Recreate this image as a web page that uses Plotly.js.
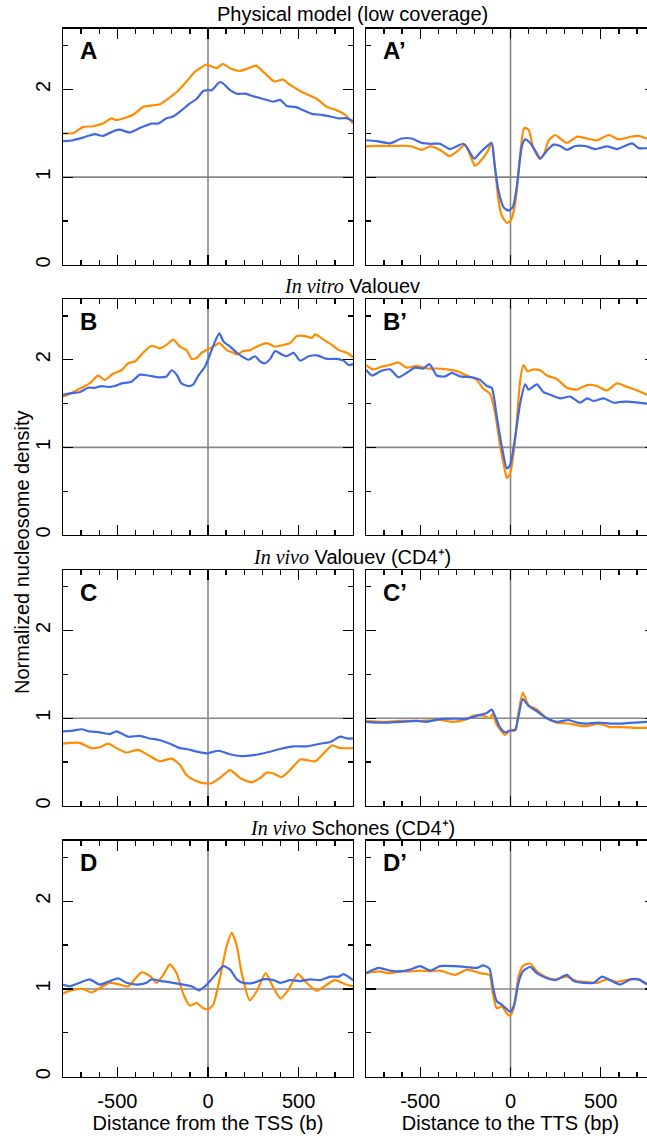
<!DOCTYPE html>
<html>
<head>
<meta charset="utf-8">
<script src="https://cdn.plot.ly/plotly-3.0.1.min.js"></script>
<style>
html, body { margin: 0; padding: 0; overflow: hidden; background: #fff; }
#chart { width: 656px; height: 1139px; }
</style>
</head>
<body>
<div id="chart"></div>
<script>
// ---- Data ----
const panelLabels = ["A", "A\u2019", "B", "B\u2019", "C", "C\u2019", "D", "D\u2019"];
const rowTitles = [
  "Physical model (low coverage)",
  "<i style=\"font-family:'Liberation Serif'\">In vitro</i> Valouev",
  "<i style=\"font-family:'Liberation Serif'\">In vivo</i> Valouev (CD4\u207A)",
  "<i style=\"font-family:'Liberation Serif'\">In vivo</i> Schones (CD4\u207A)"
];
const xTickVals = [-500, 0, 500];
const xTickText = ["-500", "0", "500"];
const yTickVals = [0, 1, 2];
const yTickText = ["0", "1", "2"];
const xTitleLeft = "Distance from the TSS (b)";
const xTitleRight = "Distance to the TTS (bp)";
const yTitle = "Normalized nucleosome density";

// Panel A (TSS, physical model)
const aOrangeX = [-800,-745,-690,-634,-579,-533,-505,-413,-358,-265,-229,-173,-118,-72,-44,-11,20,48,81,122,177,223,265,315,365,413,453,518,601,656,711,758,800];
const aOrangeY = [1.50,1.50,1.57,1.58,1.61,1.67,1.65,1.71,1.80,1.83,1.88,1.97,2.09,2.20,2.24,2.28,2.26,2.24,2.29,2.24,2.21,2.24,2.27,2.18,2.09,2.11,2.05,1.97,1.89,1.80,1.76,1.71,1.61];
const aBlueX = [-800,-745,-690,-625,-579,-514,-487,-431,-376,-312,-275,-229,-192,-146,-100,-63,-26,2,20,63,81,122,159,205,251,306,361,398,435,481,527,573,629,675,721,767,800];
const aBlueY = [1.41,1.42,1.45,1.49,1.47,1.53,1.54,1.51,1.56,1.61,1.61,1.67,1.69,1.76,1.84,1.89,1.98,1.99,1.99,2.08,2.07,1.99,1.95,1.95,1.92,1.89,1.86,1.88,1.81,1.80,1.76,1.72,1.71,1.69,1.67,1.67,1.64];

// Panel A' (TTS, physical model)
const apOrangeX = [-800,-741,-649,-556,-492,-445,-390,-338,-298,-251,-224,-196,-168,-131,-104,-85,-67,-48,-20,2,26,54,76,100,124,161,187,211,248,275,312,368,423,479,543,599,664,710,758,800];
const apOrangeY = [1.35,1.355,1.355,1.355,1.31,1.35,1.31,1.24,1.29,1.37,1.25,1.13,1.18,1.28,1.38,1.08,0.74,0.56,0.48,0.51,0.70,1.27,1.56,1.54,1.35,1.21,1.27,1.42,1.48,1.44,1.39,1.46,1.44,1.42,1.48,1.43,1.46,1.47,1.44,1.45];
const apBlueX = [-800,-741,-667,-603,-547,-492,-436,-390,-335,-261,-233,-201,-168,-131,-104,-89,-67,-39,-11,13,35,63,81,109,146,165,201,238,275,312,359,414,470,534,590,673,710,758,800];
const apBlueY = [1.42,1.41,1.385,1.44,1.44,1.39,1.38,1.38,1.32,1.38,1.31,1.21,1.28,1.35,1.39,1.16,0.85,0.66,0.62,0.66,0.89,1.35,1.43,1.39,1.27,1.21,1.30,1.37,1.355,1.31,1.355,1.355,1.32,1.35,1.32,1.385,1.33,1.33,1.33];

// Panel B (TSS, in vitro Valouev)
const bOrangeX = [-800,-763,-708,-653,-606,-570,-524,-477,-441,-404,-358,-312,-265,-229,-192,-155,-118,-90,-63,-35,2,29,63,103,140,159,195,232,269,324,371,417,453,490,536,573,592,638,684,721,767,800];
const bOrangeY = [1.58,1.61,1.67,1.73,1.82,1.77,1.84,1.88,1.96,1.98,2.08,2.16,2.13,2.17,2.23,2.15,2.11,2.01,2.02,2.08,2.12,2.15,2.19,2.11,2.08,2.06,2.10,2.11,2.15,2.19,2.15,2.17,2.19,2.27,2.27,2.25,2.29,2.23,2.17,2.11,2.08,2.03];
const bBlueX = [-800,-754,-708,-662,-625,-588,-551,-514,-477,-422,-376,-330,-275,-229,-201,-173,-146,-109,-81,-53,-17,11,39,63,85,122,159,186,223,260,288,315,343,371,407,435,472,509,555,601,656,711,748,776,800];
const bBlueY = [1.60,1.62,1.63,1.68,1.68,1.70,1.69,1.70,1.73,1.75,1.83,1.82,1.80,1.81,1.88,1.83,1.73,1.70,1.72,1.82,1.92,2.06,2.21,2.30,2.21,2.15,2.08,2.04,2.00,2.04,1.98,1.96,2.01,2.10,2.06,2.04,2.08,1.99,2.04,2.05,2.01,2.01,1.99,1.94,1.95];

// Panel B' (TTS, in vitro Valouev)
const bpOrangeX = [-800,-760,-714,-667,-621,-575,-519,-464,-408,-353,-298,-242,-187,-150,-113,-85,-57,-35,-20,-2,26,54,72,94,128,165,201,257,312,368,423,479,534,590,645,701,758,800];
const bpOrangeY = [1.94,1.89,1.92,1.94,1.97,1.91,1.93,1.90,1.90,1.89,1.87,1.82,1.77,1.67,1.61,1.39,1.01,0.78,0.65,0.70,1.09,1.77,1.94,1.87,1.89,1.88,1.82,1.78,1.68,1.66,1.71,1.70,1.65,1.73,1.69,1.65,1.60,1.59];
const bpBlueX = [-800,-766,-719,-667,-621,-575,-529,-482,-449,-408,-362,-325,-279,-214,-168,-131,-104,-76,-48,-20,-2,26,54,81,100,146,183,220,275,331,386,423,460,516,571,617,664,710,758,800];
const bpBlueY = [1.885,1.82,1.87,1.89,1.80,1.85,1.91,1.90,1.95,1.82,1.81,1.85,1.81,1.80,1.77,1.70,1.68,1.35,1.01,0.76,0.80,1.12,1.51,1.72,1.66,1.72,1.63,1.60,1.56,1.58,1.51,1.56,1.53,1.56,1.51,1.52,1.52,1.51,1.50,1.50];

// Panel C (TSS, in vivo Valouev)
const cOrangeX = [-800,-763,-708,-643,-597,-551,-505,-450,-385,-330,-265,-201,-155,-118,-72,-26,20,66,122,177,241,288,324,361,407,453,509,555,592,638,684,730,800];
const cOrangeY = [0.71,0.72,0.72,0.66,0.67,0.71,0.66,0.61,0.64,0.58,0.51,0.54,0.47,0.35,0.29,0.26,0.26,0.32,0.41,0.32,0.27,0.32,0.38,0.37,0.33,0.41,0.53,0.52,0.51,0.60,0.69,0.66,0.66];
const cBlueX = [-800,-745,-699,-653,-597,-542,-505,-441,-376,-321,-265,-210,-155,-118,-63,-7,57,122,177,251,324,398,472,546,619,675,730,767,800];
const cBlueY = [0.85,0.86,0.875,0.85,0.84,0.82,0.85,0.79,0.80,0.77,0.75,0.71,0.66,0.65,0.62,0.60,0.63,0.59,0.57,0.58,0.61,0.65,0.68,0.68,0.71,0.73,0.79,0.77,0.77];

// Panel C' (TTS, in vivo Valouev)
const cpOrangeX = [-800,-704,-612,-519,-390,-316,-242,-205,-150,-116,-98,-79,-57,-30,-2,26,44,68,100,146,201,257,322,368,423,488,553,617,682,758,800];
const cpOrangeY = [0.97,0.96,0.97,0.97,0.98,0.96,0.99,1.03,1.03,1.00,1.05,0.94,0.87,0.81,0.86,0.86,1.06,1.29,1.15,1.10,1.00,0.95,0.94,0.92,0.91,0.94,0.90,0.90,0.89,0.89,0.89];
const cpBlueX = [-800,-704,-612,-519,-464,-390,-316,-242,-168,-131,-104,-85,-57,-30,-2,26,44,68,100,146,201,257,322,368,423,488,553,617,682,758,800];
const cpBlueY = [0.96,0.95,0.96,0.97,0.96,0.99,0.995,0.995,1.04,1.06,1.10,1.02,0.89,0.84,0.86,0.87,1.02,1.22,1.14,1.08,1.00,0.96,0.98,0.95,0.94,0.95,0.94,0.94,0.95,0.96,0.96];

// Panel D (TSS, in vivo Schones)
const dOrangeX = [-800,-745,-690,-643,-597,-542,-487,-441,-404,-367,-321,-284,-247,-210,-173,-136,-100,-63,-26,2,29,66,103,131,159,186,230,270,318,360,400,440,496,540,600,650,700,750,800];
const dOrangeY = [0.95,0.99,1.00,0.96,1.01,1.07,1.05,1.03,1.11,1.19,1.15,1.07,1.16,1.28,1.18,0.94,0.81,0.84,0.78,0.77,0.82,1.13,1.49,1.64,1.49,1.18,0.87,0.98,1.18,1.02,0.89,0.98,1.17,1.08,0.98,1.04,1.10,1.06,1.03];
const dBlueX = [-800,-763,-708,-653,-597,-542,-496,-450,-394,-339,-312,-256,-192,-136,-90,-50,-17,11,48,85,122,159,195,251,306,361,398,453,509,564,619,675,721,748,800];
const dBlueY = [1.05,1.03,1.07,1.11,1.05,1.09,1.12,1.07,1.05,1.07,1.11,1.09,1.07,1.05,1.03,0.985,1.03,1.09,1.18,1.26,1.22,1.11,1.07,1.07,1.11,1.10,1.07,1.10,1.09,1.11,1.10,1.14,1.14,1.17,1.10];

// Panel D' (TTS, in vivo Schones)
const dpOrangeX = [-800,-731,-667,-612,-556,-501,-445,-390,-307,-242,-168,-116,-98,-76,-48,-20,-2,20,44,68,109,146,192,248,312,368,423,479,534,590,664,719,758,800];
const dpOrangeY = [1.18,1.20,1.18,1.20,1.20,1.21,1.20,1.21,1.16,1.22,1.18,1.16,0.95,0.78,0.80,0.72,0.69,0.80,1.14,1.26,1.29,1.20,1.14,1.11,1.14,1.09,1.08,1.07,1.11,1.08,1.11,1.10,1.06,1.06];
const dpBlueX = [-800,-731,-667,-612,-556,-501,-445,-390,-316,-242,-187,-150,-116,-98,-76,-48,-26,-2,20,44,68,109,146,192,248,312,349,405,460,507,553,608,664,710,758,800];
const dpBlueY = [1.18,1.24,1.21,1.20,1.22,1.26,1.21,1.26,1.26,1.25,1.24,1.27,1.23,1.03,0.86,0.82,0.78,0.74,0.82,1.07,1.20,1.25,1.18,1.13,1.10,1.16,1.09,1.07,1.07,1.14,1.10,1.05,1.11,1.11,1.05,1.05];

const seriesOrange = [[aOrangeX,aOrangeY],[apOrangeX,apOrangeY],[bOrangeX,bOrangeY],[bpOrangeX,bpOrangeY],[cOrangeX,cOrangeY],[cpOrangeX,cpOrangeY],[dOrangeX,dOrangeY],[dpOrangeX,dpOrangeY]];
const seriesBlue = [[aBlueX,aBlueY],[apBlueX,apBlueY],[bBlueX,bBlueY],[bpBlueX,bpBlueY],[cBlueX,cBlueY],[cpBlueX,cpBlueY],[dBlueX,dBlueY],[dpBlueX,dpBlueY]];

// ---- Layout geometry (pixels) ----
const W = 656, H = 1139;
const colLeft = [[63, 353], [366, 655]];
const rowTop = [[28.7, 265], [299.3, 535], [570, 806], [840.7, 1076.7]];
const px = v => v / W;
const py = v => 1 - v / H;
const FONT = "'Liberation Sans', Arial, Helvetica, sans-serif";
const ORANGE = "#FF8C00", BLUE = "#4169E1", GRAY = "#878787";

const traces = [];
const layout = {
  width: W, height: H,
  margin: {l: 0, r: 0, t: 0, b: 0},
  paper_bgcolor: "#fff", plot_bgcolor: "#fff",
  showlegend: false,
  font: {family: FONT, size: 20, color: "#000"},
  shapes: [], annotations: []
};

for (let i = 0; i < 8; i++) {
  const r = Math.floor(i / 2), c = i % 2;
  const n = i + 1;
  const xa = "x" + (n === 1 ? "" : n), ya = "y" + (n === 1 ? "" : n);
  const xk = "xaxis" + (n === 1 ? "" : n), yk = "yaxis" + (n === 1 ? "" : n);
  const bottom = r === 3, left = c === 0;
  layout[xk] = {
    domain: [px(colLeft[c][0]), px(colLeft[c][1])],
    anchor: ya, range: [-800, 800],
    showgrid: false, zeroline: false,
    showline: true, linecolor: "#000", linewidth: 1.3, mirror: "ticks",
    ticks: "inside", ticklen: 10, tickwidth: 1.3, tickcolor: "#000",
    tickmode: "array", tickvals: xTickVals, ticktext: xTickText,
    showticklabels: bottom,
    tickfont: {family: FONT, size: 20, color: "#000"},
    ticklabelstandoff: 6,
    minor: {dtick: 100, tick0: 0, ticks: "inside", ticklen: 5, tickwidth: 1.3, tickcolor: "#000", showgrid: false},
    fixedrange: true
  };
  if (bottom) layout[xk].title = {text: left ? xTitleLeft : xTitleRight, font: {family: FONT, size: 20, color: "#000"}, standoff: 3};
  layout[yk] = {
    domain: [py(rowTop[r][1]), py(rowTop[r][0])],
    anchor: xa, range: [0, 2.69],
    showgrid: false, zeroline: false,
    showline: true, linecolor: "#000", linewidth: 1.3, mirror: "ticks",
    ticks: "inside", ticklen: 10, tickwidth: 1.3, tickcolor: "#000",
    tickmode: "array", tickvals: yTickVals, ticktext: yTickText,
    showticklabels: left, tickangle: -90,
    tickfont: {family: FONT, size: 20, color: "#000"},
    ticklabelstandoff: 4,
    minor: {dtick: 0.5, tick0: 0, ticks: "inside", ticklen: 5, tickwidth: 1.3, tickcolor: "#000", showgrid: false},
    fixedrange: true
  };
  // reference lines at x = 0 and y = 1
  layout.shapes.push({type: "line", xref: xa, yref: ya, x0: 0, x1: 0, y0: 0, y1: 2.69, line: {color: GRAY, width: 1.6}, layer: "below"});
  layout.shapes.push({type: "line", xref: xa, yref: ya, x0: -800, x1: 800, y0: 1, y1: 1, line: {color: GRAY, width: 1.6}, layer: "below"});
  // panel letter
  layout.annotations.push({
    text: "<b>" + panelLabels[i] + "</b>", xref: "paper", yref: "paper",
    x: px(colLeft[c][0] + 15), y: py(rowTop[r][0] + 22), xanchor: "left", yanchor: "middle",
    showarrow: false, font: {family: FONT, size: 24, color: "#000"}
  });
  const o = seriesOrange[i], b = seriesBlue[i];
  traces.push({x: o[0], y: o[1], xaxis: xa, yaxis: ya, type: "scatter", mode: "lines",
    line: {color: ORANGE, width: 2.2, shape: "spline", smoothing: 0.6}, hoverinfo: "skip"});
  traces.push({x: b[0], y: b[1], xaxis: xa, yaxis: ya, type: "scatter", mode: "lines",
    line: {color: BLUE, width: 2.2, shape: "spline", smoothing: 0.6}, hoverinfo: "skip"});
}

// row titles
const titleY = [14, 286, 557, 828];
for (let r = 0; r < 4; r++) {
  layout.annotations.push({
    text: rowTitles[r], xref: "paper", yref: "paper", x: px(352), y: py(titleY[r]),
    xanchor: "center", yanchor: "middle", showarrow: false,
    font: {family: FONT, size: 20, color: "#000"}
  });
}
// common y title
layout.annotations.push({
  text: yTitle, xref: "paper", yref: "paper", x: px(22), y: py(553),
  xanchor: "center", yanchor: "middle", textangle: -90, showarrow: false,
  font: {family: FONT, size: 20, color: "#000"}
});

Plotly.newPlot("chart", traces, layout, {staticPlot: true, displayModeBar: false});
</script>
</body>
</html>
